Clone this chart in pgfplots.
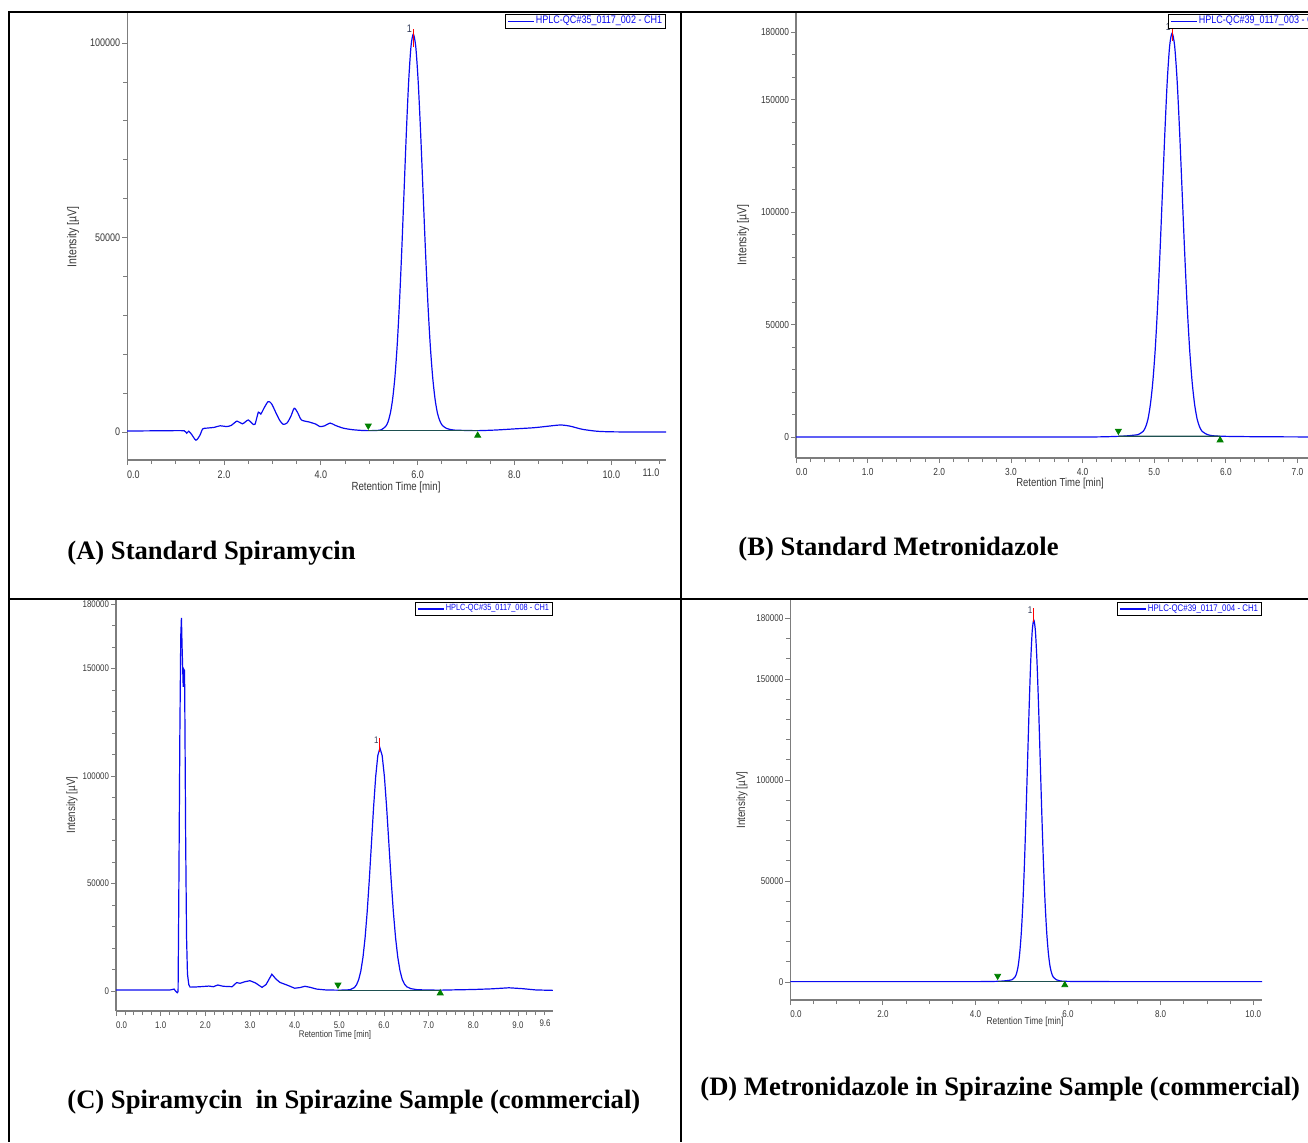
\documentclass[border=0pt]{standalone}
\usepackage{fontspec}
\setmainfont{Liberation Serif}
\newfontfamily\cond[FakeStretch=0.82]{Liberation Sans}
\usepackage{pgfplots}
\pgfplotsset{compat=1.18}
\definecolor{axgray}{RGB}{125,125,125}
\definecolor{lblgray}{RGB}{55,55,55}
\definecolor{trace}{RGB}{10,10,240}
\definecolor{bline}{RGB}{30,80,80}
\definecolor{mgreen}{RGB}{0,128,0}
\definecolor{pklbl}{RGB}{50,60,90}
\newcommand\zl[1]{\makebox[0pt][l]{#1}}
\pgfplotsset{
  chrom/.style={
    scale only axis, anchor=south west,
    axis lines*=left,
    scaled x ticks=false, scaled y ticks=false,
    axis line style={draw=axgray, line width=0.6pt},
    tick style={draw=axgray, line width=0.4pt},
    tick align=outside,
    major tick length=2.5pt, minor tick length=2pt,
    ticklabel style={text=lblgray},
    yticklabel style={inner sep=0.8pt},
    xticklabel style={inner sep=1.2pt, yshift=-1.5pt},
    minor ytick={0,10000,...,180000},
    legend style={at={(1,1)}, anchor=north east, yshift=-1pt, draw=black, line width=0.5pt,
      fill=white, text=trace, inner xsep=1pt, inner ysep=0.2pt, nodes={inner sep=0.7pt}},
    legend image code/.code={\draw[draw=trace, line width=0.7pt] (0pt,0pt) -- (13pt,0pt);},
    legend cell align=left,
  },
  trc/.style={trace, line width=0.6pt},
  bl/.style={bline, line width=0.6pt, forget plot},
  mdown/.style={only marks, mark=triangle*, mark size=1.7pt, mgreen, mark options={rotate=180}, forget plot},
  mup/.style={only marks, mark=triangle*, mark size=1.7pt, mgreen, forget plot},
  rtick/.style={red, line width=0.5pt, forget plot},
}
\begin{document}
\begin{tikzpicture}[x=0.5pt,y=-0.5pt]
% ---------------- Panel A ----------------
\begin{axis}[chrom, at={(63.6pt,-230pt)}, width=269.4pt, height=224pt,
  xmin=0, xmax=11.13, ymin=-7200, ymax=107970,
  xtick={0,2,4,6,8,10}, xticklabels={\zl{0.0},2.0,4.0,6.0,8.0,10.0},
  minor xtick={0,0.5,...,11},
  ytick={0,50000,100000}, yticklabels={0,50000,100000},
  ticklabel style={font=\cond\fontsize{5.5}{6}\selectfont},
  legend style={font=\cond\fontsize{5.5}{6}\selectfont}]
\addplot[trc, smooth, tension=0.45] coordinates {
(0,250) (0.5,300) (1.0,350) (1.18,300) (1.23,-300) (1.27,200) (1.33,-600) (1.42,-2100) (1.5,-900)
(1.56,800) (1.65,1000) (1.8,1200) (1.92,1600) (2.05,1400) (2.15,1700) (2.27,2800) (2.38,2100)
(2.5,3100) (2.58,2200) (2.64,2000) (2.71,5100) (2.76,4600) (2.82,6000) (2.91,7800) (2.98,7300)
(3.07,5000) (3.15,3000) (3.22,2000) (3.3,2300) (3.38,4000) (3.45,6100) (3.52,5000) (3.6,3100)
(3.75,2600) (3.9,2000) (3.98,1400) (4.08,1600) (4.19,2300) (4.3,1700) (4.46,1000) (4.65,600)
(4.85,400) (5.0,350) (5.15,400) (5.245,550) (5.34,1450) (5.3875,2600) (5.435,4780) (5.4825,8420)
(5.53,14100) (5.5775,22360) (5.625,33420) (5.6725,46990) (5.72,62160) (5.7675,77290) (5.815,90320)
(5.8625,99140) (5.91,102300) (5.96,99140) (6.01,90320) (6.06,77290) (6.11,62160) (6.16,46990)
(6.21,33420) (6.26,22360) (6.31,14100) (6.36,8420) (6.41,4780) (6.46,2800) (6.51,1700) (6.6,900)
(6.75,500) (7.0,400) (7.24,350) (7.6,500) (8.0,800) (8.4,1100) (8.7,1500) (8.95,1800) (9.15,1500)
(9.4,700) (9.7,200) (10.0,50) (10.5,0) (11.13,0)};
\addlegendentry{HPLC-QC\#35\_0117\_002 - CH1}
\addplot[bl] coordinates {(4.98,350) (7.24,350)};
\addplot[mdown] coordinates {(4.98,1600)};
\addplot[mup] coordinates {(7.24,-900)};
\addplot[rtick] coordinates {(5.91,98900) (5.91,103600)};
\node[font=\cond\fontsize{5.5}{6}\selectfont, text=pklbl, anchor=east, inner sep=0.3pt] at (axis cs:5.90,103600) {1};
\end{axis}
% ---------------- Panel B ----------------
\begin{axis}[chrom, at={(398pt,-229pt)}, width=266.5pt, height=223pt,
  xmin=0, xmax=7.44, ymin=-9333, ymax=188889,
  xtick={0,1,2,3,4,5,6,7}, xticklabels={\zl{0.0},1.0,2.0,3.0,4.0,5.0,6.0,7.0},
  minor xtick={0,0.2,...,7.4},
  ytick={0,50000,100000,150000,180000}, yticklabels={0,50000,100000,150000,180000},
  ticklabel style={font=\cond\fontsize{5.1}{6}\selectfont},
  legend style={font=\cond\fontsize{5.5}{6}\selectfont}]
\addplot[trc, smooth, tension=0.45] coordinates {
(0,0) (1,0) (2,0) (3,0) (4,0) (4.3,100) (4.5,300) (4.6,450) (4.71,800) (4.7775,1100) (4.845,2500)
(4.879,4400) (4.9125,7880) (4.946,14290) (4.98,24290) (5.014,38830) (5.0475,58280) (5.081,82180)
(5.115,108870) (5.149,135490) (5.1825,158410) (5.216,173940) (5.25,179500) (5.285,173940)
(5.32,158410) (5.355,135490) (5.39,108870) (5.425,82180) (5.46,58280) (5.495,38830) (5.53,24290)
(5.565,14290) (5.60,7880) (5.635,4400) (5.67,2500) (5.74,1100) (5.81,600) (5.92,350) (6.2,200)
(6.6,100) (7.0,50) (7.44,0)};
\addlegendentry{HPLC-QC\#39\_0117\_003 - CH1}
\addplot[bl] coordinates {(4.50,300) (5.92,350)};
\addplot[mdown] coordinates {(4.50,2700)};
\addplot[mup] coordinates {(5.92,-1400)};
\addplot[rtick] coordinates {(5.25,176200) (5.25,182400)};
\node[font=\cond\fontsize{5.1}{6}\selectfont, text=pklbl, anchor=east, inner sep=0.3pt] at (axis cs:5.24,182400) {1};
\end{axis}
% ---------------- Panel C ----------------
\begin{axis}[chrom, at={(58pt,-505.5pt)}, width=218.5pt, height=205.5pt,
  xmin=0, xmax=9.785, ymin=-9302, ymax=181860,
  xtick={0,1,2,3,4,5,6,7,8,9}, xticklabels={\zl{0.0},1.0,2.0,3.0,4.0,5.0,6.0,7.0,8.0,9.0},
  minor xtick={0,0.2,...,9.6},
  ytick={0,50000,100000,150000,180000}, yticklabels={0,50000,100000,150000,180000},
  ticklabel style={font=\cond\fontsize{4.8}{5.5}\selectfont},
  legend style={font=\cond\fontsize{4.5}{5}\selectfont}]
\addplot[trc] coordinates {
(0,450) (0.5,450) (1.0,500) (1.2,450) (1.26,700) (1.3,900) (1.34,-200) (1.37,-800) (1.39,-300)
(1.405,40000) (1.43,120000) (1.45,165000) (1.465,173600) (1.48,160000) (1.50,145000) (1.505,141500)
(1.51,150000) (1.535,149000) (1.545,120000) (1.56,70000) (1.58,25000) (1.60,8000) (1.63,3000)
(1.66,1800) (1.8,1900) (1.95,2100) (2.08,2300) (2.18,2000) (2.28,2800) (2.4,2200) (2.6,2000)
(2.7,3900) (2.78,3600) (2.88,4300) (3.0,4800) (3.12,3800) (3.27,1700) (3.36,3000) (3.49,7800)
(3.58,5600) (3.67,4000) (3.85,2600) (4.0,1300) (4.12,1600) (4.23,2200) (4.35,1700) (4.49,900)
(4.7,500) (4.95,400) (5.15,450) (5.245,650) (5.34,1650) (5.3875,2970) (5.435,5340) (5.4825,9360)
(5.53,15630) (5.5775,24760) (5.625,36960) (5.6725,51950) (5.72,68690) (5.7675,85390) (5.815,99770)
(5.8625,109510) (5.91,113000) (5.96,109510) (6.01,99770) (6.06,85390) (6.11,68690) (6.16,51950)
(6.21,36960) (6.26,24760) (6.31,15630) (6.36,9360) (6.41,5340) (6.46,3200) (6.51,2000) (6.6,1100)
(6.75,600) (7.0,450) (7.26,400) (7.6,550) (8.0,700) (8.4,1000) (8.8,1500) (9.1,1100) (9.4,500)
(9.785,300)};
\addlegendentry{HPLC-QC\#35\_0117\_008 - CH1}
\addplot[bl] coordinates {(4.97,400) (7.26,400)};
\addplot[mdown] coordinates {(4.97,2900)};
\addplot[mup] coordinates {(7.26,-1000)};
\addplot[rtick] coordinates {(5.91,111200) (5.91,117700)};
\node[font=\cond\fontsize{4.8}{5.5}\selectfont, text=pklbl, anchor=east, inner sep=0.3pt] at (axis cs:5.90,116500) {1};
\end{axis}
% ---------------- Panel D ----------------
\begin{axis}[chrom, at={(395.15pt,-500pt)}, width=235.85pt, height=200pt,
  xmin=0, xmax=10.19, ymin=-8911, ymax=189109,
  xtick={0,2,4,6,8,10}, xticklabels={\zl{0.0},2.0,4.0,6.0,8.0,10.0},
  minor xtick={0,0.5,...,10},
  ytick={0,50000,100000,150000,180000}, yticklabels={0,50000,100000,150000,180000},
  ticklabel style={font=\cond\fontsize{4.9}{5.5}\selectfont},
  legend style={font=\cond\fontsize{4.8}{5.5}\selectfont}]
\addplot[trc, smooth, tension=0.45] coordinates {
(0,200) (2,200) (4,200) (4.3,250) (4.48,350) (4.6,500) (4.72,800) (4.7875,1100) (4.855,2500)
(4.889,4400) (4.9225,7900) (4.956,14300) (4.99,24300) (5.024,38800) (5.0575,58200) (5.091,82000)
(5.125,108700) (5.159,135300) (5.1925,158100) (5.226,173700) (5.26,179200) (5.295,173700)
(5.33,158100) (5.365,135300) (5.40,108700) (5.435,82000) (5.47,58200) (5.505,38800) (5.54,24300)
(5.575,14300) (5.61,7900) (5.645,4400) (5.68,2500) (5.75,1100) (5.82,600) (5.93,350) (6.3,250)
(7,200) (8,200) (10.19,200)};
\addlegendentry{HPLC-QC\#39\_0117\_004 - CH1}
\addplot[bl] coordinates {(4.48,350) (5.93,350)};
\addplot[mdown] coordinates {(4.48,3000)};
\addplot[mup] coordinates {(5.93,-1500)};
\addplot[rtick] coordinates {(5.26,178200) (5.26,185100)};
\node[font=\cond\fontsize{4.9}{5.5}\selectfont, text=pklbl, anchor=east, inner sep=0.3pt] at (axis cs:5.25,184000) {1};
\end{axis}
% ---------------- labels ----------------
\node[font=\cond\fontsize{5.9}{7}\selectfont, text=lblgray] at (396,487) {Retention Time [min]};
\node[font=\cond\fontsize{5.8}{7}\selectfont, text=lblgray] at (1060,483) {Retention Time [min]};
\node[font=\cond\fontsize{4.8}{6}\selectfont, text=lblgray] at (335,1035) {Retention Time [min]};
\node[font=\cond\fontsize{5.1}{6}\selectfont, text=lblgray] at (1025,1022) {Retention Time [min]};
\node[rotate=90, font=\cond\fontsize{6.4}{7}\selectfont, text=lblgray] at (73,237) {Intensity [µV]};
\node[rotate=90, font=\cond\fontsize{6.4}{7}\selectfont, text=lblgray] at (743,235) {Intensity [µV]};
\node[rotate=90, font=\cond\fontsize{6.0}{7}\selectfont, text=lblgray] at (72,805) {Intensity [µV]};
\node[rotate=90, font=\cond\fontsize{6.0}{7}\selectfont, text=lblgray] at (742,800) {Intensity [µV]};
\node[font=\cond\fontsize{5.5}{6}\selectfont, text=lblgray] at (651,473) {11.0};
\node[font=\cond\fontsize{4.8}{6}\selectfont, text=lblgray] at (545,1023) {9.6};
% ---------------- captions ----------------
\node[anchor=base west, inner sep=0, font=\fontsize{13.3}{16}\selectfont\bfseries] at (67,559) {(A) Standard Spiramycin};
\node[anchor=base west, inner sep=0, font=\fontsize{13.3}{16}\selectfont\bfseries] at (738,555) {(B) Standard Metronidazole};
\node[anchor=base west, inner sep=0, font=\fontsize{13.3}{16}\selectfont\bfseries] at (67,1108) {(C) Spiramycin \ in Spirazine Sample (commercial)};
\node[anchor=base west, inner sep=0, font=\fontsize{13.3}{16}\selectfont\bfseries] at (700,1095) {(D) Metronidazole in Spirazine Sample (commercial)};
% ---------------- frame ----------------
\draw[line width=0.6pt] (9,12) -- (1308,12);
\draw[line width=1.2pt] (8,12) -- (67,12);
\draw[line width=1.2pt] (730,12) -- (737,12);
\draw[line width=1.2pt] (9,12) -- (9,1142);
\draw[line width=1.2pt] (681,12) -- (681,1142);
\draw[line width=1.2pt] (9,599) -- (738,599);
\draw[line width=0.6pt] (738,599) -- (1308,599);
\pgfresetboundingbox
\path[use as bounding box] (0,0) rectangle (1308,1142);
\end{tikzpicture}
\end{document}
